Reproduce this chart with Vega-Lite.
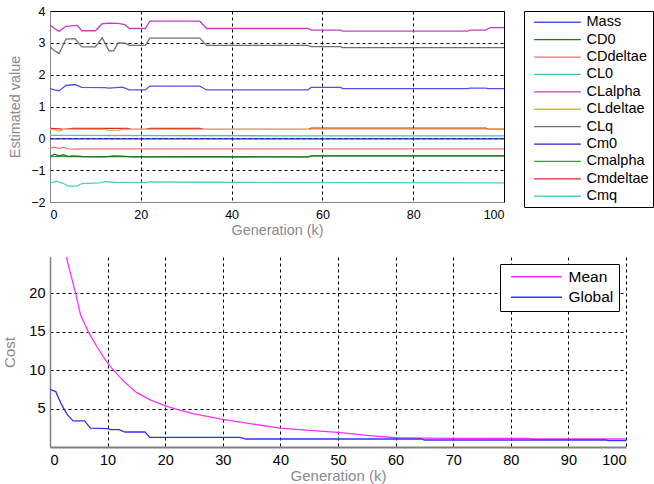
{
  "$schema": "https://vega.github.io/schema/vega-lite/v6.json",
  "padding": {"left": 2, "top": 4, "right": 0, "bottom": 0},
  "bounds": "flush",
  "spacing": 55,
  "resolve": {"scale": {"color": "independent"}, "legend": {"color": "independent"}},
  "config": {
    "font": "Liberation Sans",
    "axis": {"labelColor": "black", "titleColor": "#8a8a8a", "titleFontWeight": "normal", "grid": true, "gridColor": "black", "gridDash": [3, 3], "gridOpacity": 1, "ticks": false, "labelPadding": 5},
    "legend": {"labelColor": "black", "symbolSize": 144, "symbolStrokeWidth": 1.5, "strokeColor": "black", "fillColor": "white"},
    "line": {"strokeWidth": 1.3}
  },
  "vconcat": [
    {
      "width": 454,
      "height": 191,
      "view": {"stroke": "black", "strokeWidth": 1},
      "data": {"values": [
        {"s":"CLalpha","k":0,"v":3.56},{"s":"CLalpha","k":1,"v":3.45},{"s":"CLalpha","k":2,"v":3.36},{"s":"CLalpha","k":3.5,"v":3.52},{"s":"CLalpha","k":6,"v":3.55},{"s":"CLalpha","k":7,"v":3.38},{"s":"CLalpha","k":10,"v":3.38},{"s":"CLalpha","k":11.5,"v":3.6},{"s":"CLalpha","k":13,"v":3.62},{"s":"CLalpha","k":15,"v":3.61},{"s":"CLalpha","k":16.5,"v":3.57},{"s":"CLalpha","k":17.5,"v":3.45},{"s":"CLalpha","k":21,"v":3.45},{"s":"CLalpha","k":22,"v":3.68},{"s":"CLalpha","k":33,"v":3.68},{"s":"CLalpha","k":34.5,"v":3.45},{"s":"CLalpha","k":56.8,"v":3.45},{"s":"CLalpha","k":57.5,"v":3.4},{"s":"CLalpha","k":64,"v":3.4},{"s":"CLalpha","k":64.5,"v":3.37},{"s":"CLalpha","k":92,"v":3.37},{"s":"CLalpha","k":92.5,"v":3.4},{"s":"CLalpha","k":96,"v":3.4},{"s":"CLalpha","k":97,"v":3.48},{"s":"CLalpha","k":100,"v":3.48},
        {"s":"CLq","k":0,"v":2.88},{"s":"CLq","k":1,"v":2.75},{"s":"CLq","k":2,"v":2.66},{"s":"CLq","k":3.5,"v":3.12},{"s":"CLq","k":5.5,"v":3.13},{"s":"CLq","k":7,"v":2.87},{"s":"CLq","k":10,"v":2.87},{"s":"CLq","k":11.5,"v":3.16},{"s":"CLq","k":13,"v":2.75},{"s":"CLq","k":14,"v":2.75},{"s":"CLq","k":15,"v":3.0},{"s":"CLq","k":16.5,"v":2.99},{"s":"CLq","k":17.5,"v":2.92},{"s":"CLq","k":21,"v":2.92},{"s":"CLq","k":22,"v":3.15},{"s":"CLq","k":33,"v":3.15},{"s":"CLq","k":34.5,"v":2.92},{"s":"CLq","k":56.8,"v":2.92},{"s":"CLq","k":57.5,"v":2.88},{"s":"CLq","k":64,"v":2.88},{"s":"CLq","k":64.5,"v":2.85},{"s":"CLq","k":100,"v":2.85},
        {"s":"Mass","k":0,"v":1.56},{"s":"Mass","k":1,"v":1.52},{"s":"Mass","k":2,"v":1.49},{"s":"Mass","k":3.5,"v":1.66},{"s":"Mass","k":5.5,"v":1.69},{"s":"Mass","k":7,"v":1.6},{"s":"Mass","k":12,"v":1.59},{"s":"Mass","k":13,"v":1.58},{"s":"Mass","k":16,"v":1.61},{"s":"Mass","k":17.5,"v":1.52},{"s":"Mass","k":21,"v":1.52},{"s":"Mass","k":22,"v":1.64},{"s":"Mass","k":33,"v":1.64},{"s":"Mass","k":34.5,"v":1.52},{"s":"Mass","k":56.8,"v":1.52},{"s":"Mass","k":57.5,"v":1.6},{"s":"Mass","k":64,"v":1.6},{"s":"Mass","k":64.5,"v":1.56},{"s":"Mass","k":92,"v":1.56},{"s":"Mass","k":92.5,"v":1.58},{"s":"Mass","k":96,"v":1.58},{"s":"Mass","k":96.5,"v":1.56},{"s":"Mass","k":100,"v":1.56},
        {"s":"Cmdeltae","k":0,"v":0.31},{"s":"Cmdeltae","k":2,"v":0.3},{"s":"Cmdeltae","k":3,"v":0.28},{"s":"Cmdeltae","k":5,"v":0.31},{"s":"Cmdeltae","k":17,"v":0.31},{"s":"Cmdeltae","k":18,"v":0.28},{"s":"Cmdeltae","k":21,"v":0.28},{"s":"Cmdeltae","k":22,"v":0.31},{"s":"Cmdeltae","k":33,"v":0.31},{"s":"Cmdeltae","k":34,"v":0.28},{"s":"Cmdeltae","k":57,"v":0.28},{"s":"Cmdeltae","k":57.5,"v":0.32},{"s":"Cmdeltae","k":96,"v":0.32},{"s":"Cmdeltae","k":96.5,"v":0.29},{"s":"Cmdeltae","k":100,"v":0.29},
        {"s":"CLdeltae","k":0,"v":0.28},{"s":"CLdeltae","k":1,"v":0.27},{"s":"CLdeltae","k":2,"v":0.22},{"s":"CLdeltae","k":3,"v":0.28},{"s":"CLdeltae","k":12,"v":0.28},{"s":"CLdeltae","k":13,"v":0.24},{"s":"CLdeltae","k":15,"v":0.25},{"s":"CLdeltae","k":16,"v":0.28},{"s":"CLdeltae","k":57,"v":0.28},{"s":"CLdeltae","k":57.5,"v":0.29},{"s":"CLdeltae","k":96,"v":0.29},{"s":"CLdeltae","k":100,"v":0.3},
        {"s":"CL0","k":0,"v":0.09},{"s":"CL0","k":50,"v":0.08},{"s":"CL0","k":100,"v":0.08},
        {"s":"Cm0","k":0,"v":-0.02},{"s":"Cm0","k":50,"v":-0.02},{"s":"Cm0","k":100,"v":-0.02},
        {"s":"CDdeltae","k":0,"v":-0.3},{"s":"CDdeltae","k":1,"v":-0.28},{"s":"CDdeltae","k":2,"v":-0.32},{"s":"CDdeltae","k":3,"v":-0.28},{"s":"CDdeltae","k":4,"v":-0.33},{"s":"CDdeltae","k":6,"v":-0.34},{"s":"CDdeltae","k":7,"v":-0.33},{"s":"CDdeltae","k":100,"v":-0.33},
        {"s":"Cmalpha","k":0,"v":-0.58},{"s":"Cmalpha","k":2,"v":-0.56},{"s":"Cmalpha","k":4,"v":-0.57},{"s":"Cmalpha","k":57,"v":-0.58},{"s":"Cmalpha","k":57.5,"v":-0.55},{"s":"Cmalpha","k":100,"v":-0.55},
        {"s":"CD0","k":0,"v":-0.58},{"s":"CD0","k":1,"v":-0.5},{"s":"CD0","k":2,"v":-0.55},{"s":"CD0","k":3,"v":-0.51},{"s":"CD0","k":4,"v":-0.57},{"s":"CD0","k":5,"v":-0.55},{"s":"CD0","k":7,"v":-0.57},{"s":"CD0","k":12,"v":-0.58},{"s":"CD0","k":14,"v":-0.55},{"s":"CD0","k":16,"v":-0.56},{"s":"CD0","k":18,"v":-0.58},{"s":"CD0","k":57,"v":-0.58},{"s":"CD0","k":57.5,"v":-0.55},{"s":"CD0","k":100,"v":-0.55},
        {"s":"Cmq","k":0,"v":-1.4},{"s":"Cmq","k":1.5,"v":-1.35},{"s":"Cmq","k":3,"v":-1.42},{"s":"Cmq","k":4,"v":-1.5},{"s":"Cmq","k":6,"v":-1.5},{"s":"Cmq","k":7,"v":-1.42},{"s":"Cmq","k":11,"v":-1.4},{"s":"Cmq","k":12,"v":-1.36},{"s":"Cmq","k":14,"v":-1.38},{"s":"Cmq","k":21,"v":-1.39},{"s":"Cmq","k":22,"v":-1.37},{"s":"Cmq","k":33,"v":-1.38},{"s":"Cmq","k":100,"v":-1.4}
      ]},
      "mark": {"type": "line", "clip": true},
      "encoding": {
        "x": {"field": "k", "type": "quantitative", "scale": {"domain": [0, 100], "nice": false}, "axis": {"title": "Generation (k)", "values": [0, 20, 40, 60, 80, 100], "labelFontSize": 12.5, "titleFontSize": 14.4, "titlePadding": 3, "labelPadding": 6}},
        "y": {"field": "v", "type": "quantitative", "scale": {"domain": [-2, 4], "nice": false}, "axis": {"title": "Estimated value", "values": [-2, -1, 0, 1, 2, 3, 4], "labelFontSize": 12.5, "titleFontSize": 14.4, "titlePadding": 8}},
        "color": {"field": "s", "type": "nominal", "sort": ["Mass","CD0","CDdeltae","CL0","CLalpha","CLdeltae","CLq","Cm0","Cmalpha","Cmdeltae","Cmq"],
          "scale": {"domain": ["Mass","CD0","CDdeltae","CL0","CLalpha","CLdeltae","CLq","Cm0","Cmalpha","Cmdeltae","Cmq"], "range": ["#5050f0","#207820","#ff7070","#40c4c4","#c040c0","#c8c050","#707070","#2020d0","#30a030","#e82020","#50cccc"]},
          "legend": {"title": null, "orient": "right", "offset": 20, "padding": 4, "rowPadding": 2.4, "labelOffset": 44, "labelFontSize": 14.5, "symbolType": "M-0.2,0H7.6"}
        }
      }
    },
    {
      "width": 576,
      "height": 190,
      "view": {"stroke": null},
      "data": {"values": [
        {"s":"Mean","k":2.5,"v":26},{"s":"Mean","k":3,"v":24.2},{"s":"Mean","k":4.4,"v":20.1},{"s":"Mean","k":5.3,"v":17.2},{"s":"Mean","k":6.7,"v":14.9},{"s":"Mean","k":8.1,"v":13.1},{"s":"Mean","k":9.9,"v":11.0},{"s":"Mean","k":11,"v":10},{"s":"Mean","k":13,"v":8.4},{"s":"Mean","k":15,"v":7.1},{"s":"Mean","k":17.5,"v":6.1},{"s":"Mean","k":20,"v":5.35},{"s":"Mean","k":22.5,"v":4.8},{"s":"Mean","k":25,"v":4.3},{"s":"Mean","k":27.5,"v":3.95},{"s":"Mean","k":30,"v":3.6},{"s":"Mean","k":32.5,"v":3.3},{"s":"Mean","k":35,"v":3.0},{"s":"Mean","k":40,"v":2.45},{"s":"Mean","k":45,"v":2.15},{"s":"Mean","k":50,"v":1.9},{"s":"Mean","k":55,"v":1.5},{"s":"Mean","k":60,"v":1.2},{"s":"Mean","k":65,"v":1.15},{"s":"Mean","k":70,"v":1.13},{"s":"Mean","k":83,"v":1.12},{"s":"Mean","k":84,"v":1.04},{"s":"Mean","k":100,"v":1.04},
        {"s":"Global","k":0,"v":7.5},{"s":"Global","k":1,"v":7.2},{"s":"Global","k":2,"v":5.5},{"s":"Global","k":3,"v":4.2},{"s":"Global","k":4,"v":3.4},{"s":"Global","k":6,"v":3.4},{"s":"Global","k":7,"v":2.45},{"s":"Global","k":10,"v":2.4},{"s":"Global","k":10.5,"v":2.25},{"s":"Global","k":12,"v":2.25},{"s":"Global","k":13,"v":1.95},{"s":"Global","k":16.5,"v":1.95},{"s":"Global","k":17.3,"v":1.26},{"s":"Global","k":33,"v":1.26},{"s":"Global","k":34,"v":1.04},{"s":"Global","k":64.5,"v":1.04},{"s":"Global","k":65,"v":0.91},{"s":"Global","k":96.5,"v":0.91},{"s":"Global","k":97,"v":0.82},{"s":"Global","k":100,"v":0.82}
      ]},
      "mark": {"type": "line", "clip": true},
      "encoding": {
        "x": {"field": "k", "type": "quantitative", "scale": {"domain": [0, 100], "nice": false}, "axis": {"title": "Generation (k)", "values": [0,10,20,30,40,50,60,70,80,90,100], "domainColor": "#808080", "domainWidth": 2, "labelFontSize": 14.5, "titleFontSize": 15, "labelPadding": 6, "titlePadding": 2}},
        "y": {"field": "v", "type": "quantitative", "scale": {"domain": [0, 24.7], "nice": false}, "axis": {"title": "Cost", "values": [5, 10, 15, 20], "domainColor": "#808080", "domainWidth": 1.5, "labelFontSize": 14.5, "titleFontSize": 15, "titlePadding": 11}},
        "color": {"field": "s", "type": "nominal", "sort": ["Mean", "Global"],
          "scale": {"domain": ["Mean", "Global"], "range": ["#ff30ff", "#3030ff"]},
          "legend": {"title": null, "orient": "top-right", "offset": 7, "padding": 5, "rowPadding": 3.5, "labelOffset": 48, "labelFontSize": 15.5, "symbolType": "M-0.3,0H8.2"}
        }
      }
    }
  ]
}
